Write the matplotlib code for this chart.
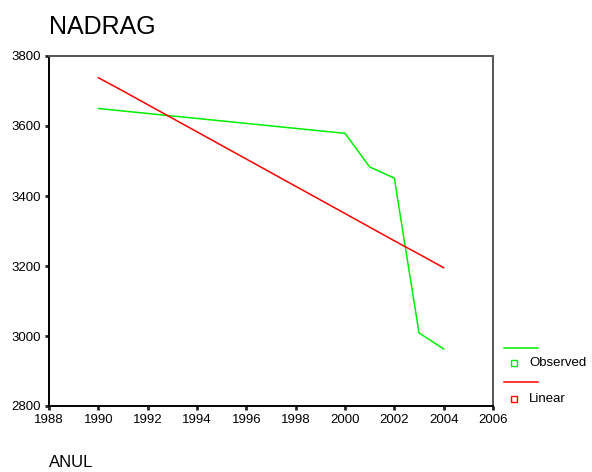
import matplotlib
matplotlib.use("Agg")
import matplotlib.pyplot as plt
from matplotlib.lines import Line2D

plt.rcParams['font.family'] = ['Liberation Sans', 'DejaVu Sans']

# observed series
anul_obs = [1990, 2000, 2001, 2002, 2003, 2004]
nadrag_obs = [3650, 3579, 3483, 3451, 3009, 2963]

# linear fit
anul_lin = [1990, 1991, 2000, 2001, 2002, 2003, 2004]
nadrag_lin = [3738, 3700, 3350, 3311, 3272, 3234, 3195]

x_ticks = list(range(1988, 2007, 2))
y_ticks = [2800, 3000, 3200, 3400, 3600, 3800]

green = '#00ee00'
red = '#ff0000'

fig = plt.figure(figsize=(5.92, 4.72), dpi=100)
ax = fig.add_axes([49/592, 1-406/472, (493-49)/592, (406-56)/472])

ax.plot(anul_obs, nadrag_obs, color=green, lw=1.1)
ax.plot(anul_lin, nadrag_lin, color=red, lw=1.1)

ax.set_xlim(1988, 2006)
ax.set_ylim(2800, 3800)
ax.set_xticks(x_ticks)
ax.set_yticks(y_ticks)
ax.tick_params(direction='out', length=3, width=2, labelsize=9.5, pad=3, color='#222222')

for s in ['left', 'bottom']:
    ax.spines[s].set_color('black')
    ax.spines[s].set_linewidth(1.4)
for s in ['top', 'right']:
    ax.spines[s].set_color('#555555')
    ax.spines[s].set_linewidth(1.4)

fig.text(49/592, 1-34/472, 'NADRAG', fontsize=18, ha='left', va='baseline')
fig.text(49/592, 1-467/472, 'ANUL', fontsize=12, ha='left', va='baseline')

# SPSS-style legend: line row, then marker row with label
def leg_row(y_line, y_mark, color, label):
    fig.add_artist(Line2D([504/592, 538/592], [1-y_line/472]*2, color=color, lw=1.1,
                          transform=fig.transFigure))
    fig.add_artist(Line2D([514/592], [1-y_mark/472], color=color, marker='s', ms=4,
                          mfc='white', mew=1.0, ls='none', transform=fig.transFigure))
    fig.text(529/592, 1-y_mark/472, label, fontsize=9.5, ha='left', va='center')

leg_row(347.5, 363, green, 'Observed')
leg_row(382, 398.5, red, 'Linear')

fig.savefig('out.png', dpi=100)
